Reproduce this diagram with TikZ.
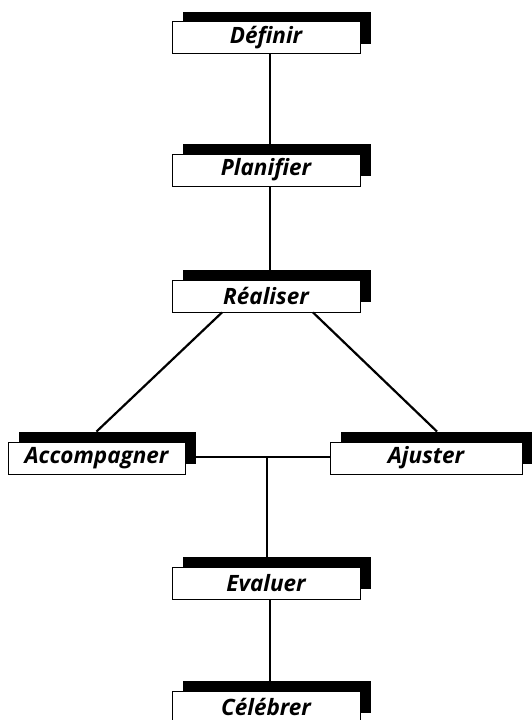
\documentclass[tikz,border=0pt]{standalone}
\usepackage{fontspec}
\setsansfont{Open Sans}
\usetikzlibrary{shadows}
\tikzset{
  stepbox/.style={draw, fill=white, line width=0.9pt, inner sep=0pt,
    minimum height=32pt, minimum width=188pt,
    font=\sffamily\bfseries\itshape\fontsize{22.5pt}{24pt}\selectfont,
    drop shadow={shadow xshift=11pt, shadow yshift=10pt, fill=black, opacity=1}},
  link/.style={line width=2.2pt}
}
\begin{document}
\begin{tikzpicture}[x=1pt,y=1pt]
  \useasboundingbox (0,0) rectangle (531,-720);
  \fill[white] (0,0) rectangle (531,-720);

  % process steps
  \node[stepbox] (def) at (266,-37.5) {Définir};
  \node[stepbox] (plan) at (266,-170) {Planifier};
  \node[stepbox] (real) at (266,-296) {Réaliser};
  \node[stepbox, minimum width=177pt] (acc) at (96.5,-458) {Accompagner};
  \node[stepbox, minimum width=192pt] (aju) at (426,-458) {Ajuster};
  \node[stepbox] (eval) at (266,-583) {Evaluer};
  \node[stepbox] (cel) at (266,-707) {Célébrer};

  % connectors
  \draw[link] ([xshift=4pt]def.south) -- ([xshift=4pt,yshift=10pt]plan.north);
  \draw[link] ([xshift=4pt]plan.south) -- ([xshift=4pt,yshift=10pt]real.north);
  \draw[link] ([xshift=-44pt]real.south) -- ([yshift=10pt]acc.north);
  \draw[link] ([xshift=47pt]real.south) -- ([xshift=11pt,yshift=10pt]aju.north);
  \draw[link] ([xshift=11pt,yshift=1pt]acc.east) -- ([yshift=1pt]aju.west);
  \coordinate (junc) at ([xshift=1pt,yshift=1pt]eval.north |- acc.east);
  \draw[link] (junc) -- ([xshift=1pt,yshift=10pt]eval.north);
  \draw[link] ([xshift=4pt]eval.south) -- ([xshift=4pt,yshift=10pt]cel.north);
\end{tikzpicture}
\end{document}
